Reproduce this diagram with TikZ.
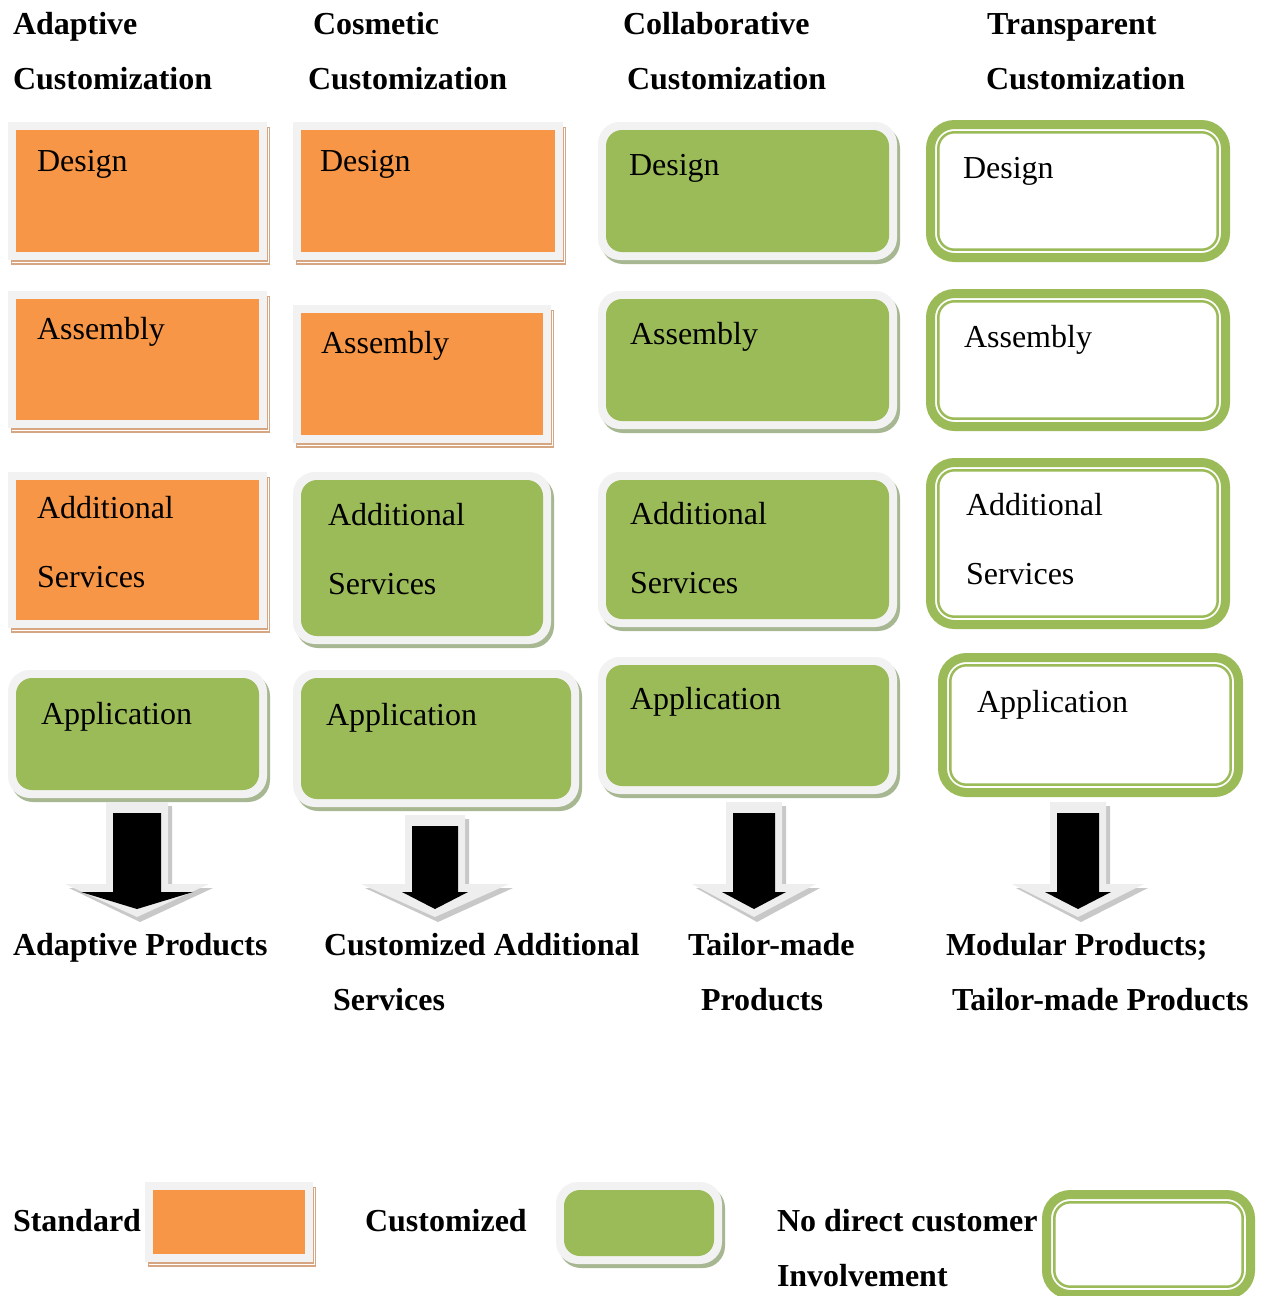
\documentclass[tikz,border=0pt]{standalone}
\usepackage{fontspec}
\setmainfont{Liberation Serif}
\definecolor{stdorange}{HTML}{F79646}
\definecolor{stdshadow}{HTML}{D6A582}
\definecolor{cusgreen}{HTML}{9BBB59}
\definecolor{cusshadow}{HTML}{A7B792}
\definecolor{framegray}{HTML}{F2F2F2}
\definecolor{arrlight}{HTML}{EEEEEE}
\definecolor{arrshade}{HTML}{C8C8C8}
\newcommand\stdbox[4]{%
  \fill[stdshadow] (#1+3,#2+5) rectangle (#3+3,#4+5);
  \draw[white,line width=0.8] (#1+4,#4+2.5) -- (#3+1,#4+2.5) -- (#3+1,#2+6);
  \fill[framegray] (#1,#2) rectangle (#3,#4);
  \fill[stdorange] (#1+8,#2+8) rectangle (#3-8,#4-8);}
\newcommand\cusbox[4]{%
  \fill[cusshadow,rounded corners=22] (#1+3,#2+4) rectangle (#3+3,#4+4);
  \fill[framegray,rounded corners=22] (#1,#2) rectangle (#3,#4);
  \fill[cusgreen,rounded corners=16] (#1+8,#2+8) rectangle (#3-8,#4-8);}
\newcommand\trnbox[4]{%
  \draw[cusgreen,line width=9,rounded corners=24] (#1+4.5,#2+4.5) rectangle (#3-4.5,#4-4.5);
  \draw[cusgreen,line width=2.5,rounded corners=16] (#1+12.3,#2+12.3) rectangle (#3-12.3,#4-12.3);}
% arrow: cx, top, shaft half width, black head half width, gray head half width
\newcommand\blockarrow[5]{%
  \fill[arrshade] (#1-#3-3,#2-7) -- (#1+#3+11,#2-7) -- (#1+#3+11,888) -- (#1+#5+4,888)
     -- (#1+3,922) -- (#1-#5+4,888) -- (#1-#3-3,888) -- cycle;
  \fill[arrlight] (#1-#3-7,#2-11) -- (#1+#3+7,#2-11) -- (#1+#3+7,884) -- (#1+#5,884)
     -- (#1,917) -- (#1-#5,884) -- (#1-#3-7,884) -- cycle;
  \fill[black] (#1-#3,#2) -- (#1+#3,#2) -- (#1+#3,892) -- (#1+#4,892)
     -- (#1,909) -- (#1-#4,892) -- (#1-#3,892) -- cycle;}
\begin{document}
\begin{tikzpicture}[x=1pt,y=-1pt,
  every node/.style={inner sep=0pt,outer sep=0pt,anchor=base west,font=\fontsize{32}{38}\selectfont},
  hdr/.style={font=\fontsize{32}{38}\selectfont\bfseries}]
\useasboundingbox[fill=white] (0,0) rectangle (1271,1296);
% headers
\node[hdr] (h1a) at (13,34) {Adaptive};
\node[hdr] (h1b) at (13,89) {Customization};
\node[hdr] (h2a) at (313,34) {Cosmetic};
\node[hdr] (h2b) at (308,89) {Customization};
\node[hdr] (h3a) at (623,34) {Collaborative};
\node[hdr] (h3b) at (627,89) {Customization};
\node[hdr] (h4a) at (987,34) {Transparent};
\node[hdr] (h4b) at (986,89) {Customization};
% column 1
\stdbox{8}{122}{267}{260}
\node (c1d) at (37,171) {Design};
\stdbox{8}{291}{267}{428}
\node (c1a) at (37,339) {Assembly};
\stdbox{8}{472}{267}{628}
\node (c1s) at (37,518) {Additional};
\node (c1s2) at (37,587) {Services};
\cusbox{8}{670}{267}{798}
\node (c1p) at (41,724) {Application};
% column 2
\stdbox{293}{122}{563}{260}
\node (c2d) at (320,171) {Design};
\stdbox{293}{305}{551}{443}
\node (c2a) at (321,353) {Assembly};
\cusbox{293}{472}{551}{644}
\node (c2s) at (328,525) {Additional};
\node (c2s2) at (328,594) {Services};
\cusbox{293}{670}{579}{807}
\node (c2p) at (326,725) {Application};
% column 3
\cusbox{598}{122}{897}{260}
\node (c3d) at (629,175) {Design};
\cusbox{598}{291}{897}{429}
\node (c3a) at (630,344) {Assembly};
\cusbox{598}{472}{897}{627}
\node (c3s) at (630,524) {Additional};
\node (c3s2) at (630,593) {Services};
\cusbox{598}{657}{897}{794}
\node (c3p) at (630,709) {Application};
% column 4
\trnbox{926}{120}{1230}{262}
\node (c4d) at (963,178) {Design};
\trnbox{926}{289}{1230}{431}
\node (c4a) at (964,347) {Assembly};
\trnbox{926}{458}{1230}{629}
\node (c4s) at (966,515) {Additional};
\node (c4s2) at (966,584) {Services};
\trnbox{938}{653}{1243}{797}
\node (c4p) at (977,712) {Application};
% arrows
\blockarrow{137}{813}{24}{56}{72}
\blockarrow{435}{826}{23}{33}{74}
\blockarrow{754}{813}{21}{32}{62}
\blockarrow{1078}{813}{21}{33}{66}
% results
\node[hdr] (r1) at (13,955) {Adaptive Products};
\node[hdr] (r2a) at (324,955) {Customized Additional};
\node[hdr] (r2b) at (333,1010) {Services};
\node[hdr] (r3a) at (688,955) {Tailor-made};
\node[hdr] (r3b) at (701,1010) {Products};
\node[hdr] (r4a) at (946,955) {Modular Products;};
\node[hdr] (r4b) at (952,1010) {Tailor-made Products};
% legend
\node[hdr] (l1) at (13,1231) {Standard};
\stdbox{145}{1182}{313}{1262}
\node[hdr] (l2) at (365,1231) {Customized};
\cusbox{556}{1182}{722}{1264}
\node[hdr] (l3a) at (777,1231) {No direct customer};
\node[hdr] (l3b) at (777,1286) {Involvement};
\trnbox{1042}{1190}{1255}{1299}
\end{tikzpicture}
\end{document}
